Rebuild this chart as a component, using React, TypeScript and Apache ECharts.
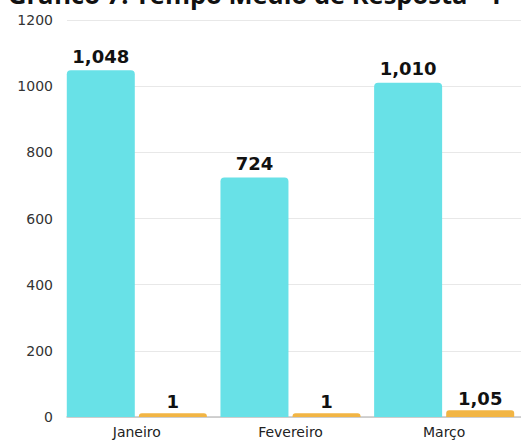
import React, { useEffect, useRef } from "react";
import * as echarts from "echarts";

const titleText = "Gráfico 7: Tempo Médio de Resposta - T";
const categories = ["Janeiro", "Fevereiro", "Março"];
const tempoValues = [1048, 724, 1010];
const outroValues = [1, 1, 1.05];
const yTicks = [0, 200, 400, 600, 800, 1000, 1200];

export default function App() {
  const ref = useRef<HTMLDivElement>(null);
  useEffect(() => {
    if (!ref.current) return;
    const chart = echarts.init(ref.current, null, { renderer: "svg" });
    const yMax = yTicks[yTicks.length - 1];
    const step = yTicks[1] - yTicks[0];
    const font = "'DejaVu Sans', sans-serif";
    const valueLabel = {
      show: true,
      position: "top",
      distance: 5,
      color: "#111111",
      fontSize: 18,
      fontWeight: "bold",
      fontFamily: font,
    };
    chart.setOption({
      animation: false,
      backgroundColor: "#ffffff",
      graphic: [
        {
          type: "text",
          x: 8,
          y: 7,
          z: 100,
          style: {
            text: titleText,
            font: "bold 25.5px 'Open Sans', sans-serif",
            fill: "#111111",
            verticalAlign: "bottom",
          },
        },
      ],
      grid: [
        { left: 67, right: 0, top: 20, bottom: 24 },
        { left: 60, width: 468, top: 20, bottom: 24 },
      ],
      xAxis: [
        {
          type: "category",
          gridIndex: 0,
          data: categories,
          axisLine: { show: true, lineStyle: { color: "#c4c4c4", width: 1.5 } },
          axisTick: { show: false },
          axisLabel: { show: false },
        },
        {
          type: "category",
          gridIndex: 1,
          data: categories,
          axisLine: { show: false },
          axisTick: { show: false },
          axisLabel: { color: "#222222", fontSize: 14, fontFamily: font, margin: 8 },
        },
      ],
      yAxis: [
        {
          type: "value",
          gridIndex: 0,
          min: 0,
          max: yMax,
          interval: step,
          axisLine: { show: false },
          axisTick: { show: false },
          axisLabel: {
            color: "#333333",
            fontSize: 14,
            fontFamily: font,
            margin: 14,
            formatter: (v: number) => String(v),
          },
          splitLine: { lineStyle: { color: "#e8e8e8", width: 1 } },
        },
        {
          type: "value",
          gridIndex: 1,
          min: 0,
          max: yMax,
          show: false,
          splitLine: { show: false },
        },
        {
          type: "value",
          gridIndex: 1,
          min: 0.94,
          max: 7.5,
          show: false,
          splitLine: { show: false },
        },
      ],
      series: [
        {
          type: "bar",
          xAxisIndex: 1,
          yAxisIndex: 1,
          data: tempoValues,
          barWidth: 68,
          barGap: "6%",
          itemStyle: { color: "#68E1E7", borderRadius: [4, 4, 0, 0] },
          label: {
            ...valueLabel,
            formatter: (p: any) => Number(p.value).toLocaleString("en-US"),
          },
        },
        {
          type: "bar",
          xAxisIndex: 1,
          yAxisIndex: 2,
          data: outroValues,
          barWidth: 68,
          barGap: "6%",
          itemStyle: { color: "#F2B544", borderRadius: [3, 3, 0, 0] },
          label: {
            ...valueLabel,
            distance: 3,
            formatter: (p: any) => String(p.value).replace(".", ","),
          },
        },
      ],
    });
    return () => chart.dispose();
  }, []);
  return (
    <div
      ref={ref}
      style={{ position: "fixed", left: 0, top: 0, width: 521, height: 441 }}
    />
  );
}
